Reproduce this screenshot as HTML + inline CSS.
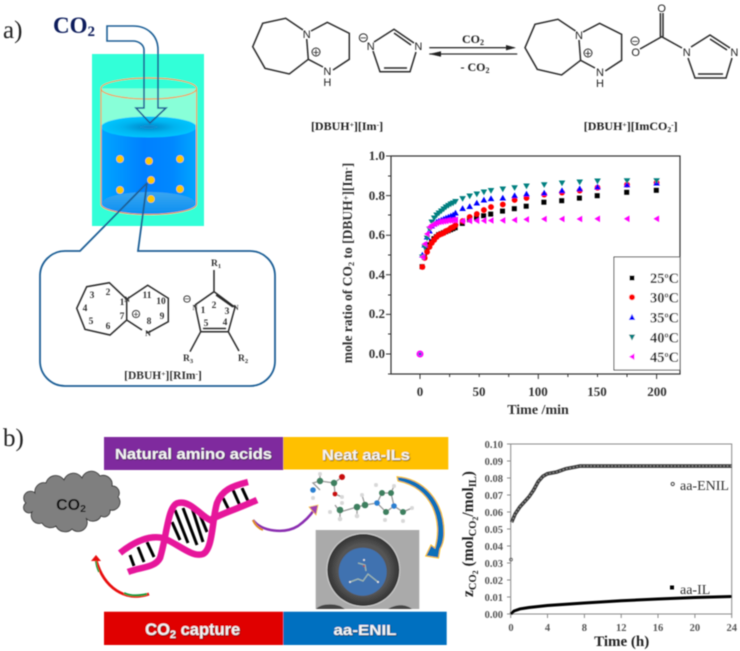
<!DOCTYPE html>
<html><head><meta charset="utf-8"><style>
html,body{margin:0;padding:0;background:#fff;width:740px;height:651px;overflow:hidden}
svg{display:block}
.s{font-family:"Liberation Serif",serif}
.b{font-family:"Liberation Serif",serif;font-weight:bold}
.a{font-family:"Liberation Sans",sans-serif;font-weight:bold}
.n{font-family:"Liberation Sans",sans-serif}
.ch{fill:none;stroke:#2a2a2a;stroke-width:1.5}
</style></head><body>
<svg width="740" height="651" viewBox="0 0 740 651" xmlns="http://www.w3.org/2000/svg">
<defs>
<filter id="bl" filterUnits="userSpaceOnUse" x="0" y="0" width="740" height="651"><feGaussianBlur stdDeviation="0.4"/></filter>
<filter id="sh" x="-10%" y="-30%" width="120%" height="160%"><feDropShadow dx="0.7" dy="0.8" stdDeviation="0.6" flood-color="#333" flood-opacity=".8"/></filter>
<linearGradient id="liq" x1="0" x2="1" y1="0" y2="0"><stop offset="0" stop-color="#00a6ff"/><stop offset=".45" stop-color="#0080ff"/><stop offset=".75" stop-color="#0088ff"/><stop offset="1" stop-color="#00a8ff"/></linearGradient>
<radialGradient id="top"><stop offset="0" stop-color="#0a84c8"/><stop offset=".55" stop-color="#00b4f0"/><stop offset="1" stop-color="#00c6ff"/></radialGradient>
<linearGradient id="bot" x1="0" x2="0" y1="0" y2="1"><stop offset="0" stop-color="#3aa6f0"/><stop offset="1" stop-color="#0c8ff2"/></linearGradient>
<radialGradient id="tem"><stop offset="0" stop-color="#5a5a5a"/><stop offset=".72" stop-color="#555"/><stop offset=".9" stop-color="#3e3e3e"/><stop offset="1" stop-color="#333"/></radialGradient>
<marker id="m1" markerUnits="userSpaceOnUse" markerWidth="6" markerHeight="6" refX="3" refY="3"><rect x=".2" y=".2" width="5" height="5" fill="#000"/></marker>
<marker id="m2" markerUnits="userSpaceOnUse" markerWidth="6" markerHeight="6" refX="3" refY="3"><circle cx="3" cy="3" r="2.9" fill="#f00"/></marker>
<marker id="m3" markerUnits="userSpaceOnUse" markerWidth="7" markerHeight="7" refX="3.5" refY="3.5"><path d="M3.5 .3L6.8 6H.2z" fill="#00f"/></marker>
<marker id="m4" markerUnits="userSpaceOnUse" markerWidth="7" markerHeight="7" refX="3.5" refY="3.5"><path d="M3.5 6.7L6.8 1H.2z" fill="#008080"/></marker>
<marker id="m5" markerUnits="userSpaceOnUse" markerWidth="7" markerHeight="7" refX="3.5" refY="3.5"><path d="M.4 3.5L6 .2V6.8z" fill="#f0f"/></marker>
</defs>
<rect width="740" height="651" fill="#fff"/>
<g filter="url(#bl)">
<!-- a) left -->
<text x="3" y="38" class="s" font-size="25" fill="#222">a)</text>
<text x="53" y="33" class="b" font-size="23" fill="#0a1f5c">CO<tspan font-size="15" dy="3">2</tspan></text>
<rect x="92" y="54" width="112" height="172" fill="#33ffd8"/>
<path d="M101 88.5V204a47.8 10.5 0 0 0 95.6 0V88.5z" fill="#88ffd8"/>
<path d="M101 127V204a47.8 10.5 0 0 0 95.6 0V127z" fill="url(#liq)"/>
<ellipse cx="148.8" cy="127" rx="47.8" ry="10.5" fill="url(#top)"/>
<ellipse cx="148.8" cy="203" rx="46" ry="11" fill="url(#bot)"/>
<path d="M101 88.5V204a47.8 10.5 0 0 0 95.6 0V88.5" fill="none" stroke="#f59a50" stroke-width="1.2"/>
<ellipse cx="148.8" cy="88.5" rx="47.8" ry="10.5" fill="none" stroke="#f59a50" stroke-width="1.2"/>
<g fill="#ffc800"><circle cx="120" cy="159" r="3.7"/><circle cx="149" cy="161" r="3.7"/><circle cx="180" cy="159" r="3.7"/><circle cx="151" cy="180" r="3.7"/><circle cx="120" cy="190" r="3.7"/><circle cx="180" cy="189" r="3.7"/><circle cx="151" cy="199" r="3.7"/></g>
<path d="M107 26H133C148 26 158 36 158 50V108H166L150 123L136 108H144V50C144 45 139 41 133 41H107z" fill="none" stroke="#1f5f96" stroke-width="1.6"/>
<path d="M147 183L80 251H65A25 25 0 0 0 40 276V361A25 25 0 0 0 65 386H250A25 25 0 0 0 275 361V276A25 25 0 0 0 250 251H138L147 183" fill="none" stroke="#1f5f96" stroke-width="1.8"/>
<g class="ch">
<path d="M126.7 299.3L109.3 282.7L86.7 286.7L76.7 308.3L85 329.3L110 335L126.7 320V299.3L147.7 285.3L168.3 298.3V321.7L150 331.7L146 333M126.7 320L142 330"/>
<path d="M195 305L214 291.7L235 307.3L228.3 331.7H200.7L195 305M214 291.7V270M200.7 331.7L190 351.7M228.3 331.7L239 351M216 295L233 307M203 328.5H226"/>
<circle cx="136" cy="314" r="3.6" stroke-width=".9"/><circle cx="187" cy="299" r="3.2" stroke-width=".9"/>
</g>
<g class="b" font-size="9.5" fill="#333" text-anchor="middle">
<text x="122" y="305">1</text><text x="108" y="295">2</text><text x="92" y="298">3</text><text x="85" y="311">4</text><text x="91" y="324">5</text><text x="108" y="329">6</text><text x="122" y="319">7</text><text x="149" y="324">8</text><text x="162" y="319">9</text><text x="161" y="304">10</text><text x="147" y="298">11</text>
<text x="203" y="313">1</text><text x="214" y="308">2</text><text x="227" y="314">3</text><text x="225" y="325">4</text><text x="206" y="326">5</text>
<text x="136" y="317.5">+</text><text x="187" y="302">−</text>
<text x="216" y="266">R<tspan font-size="6.5" dy="2">1</tspan></text><text x="188" y="361">R<tspan font-size="6.5" dy="2">3</tspan></text><text x="243" y="361">R<tspan font-size="6.5" dy="2">2</tspan></text>
<text x="148" y="336" font-size="8">N</text><text x="127" y="302" font-size="8">N</text><text x="195" y="310" font-size="7">N</text><text x="236" y="310" font-size="7">N</text>
</g>
<text x="163" y="379" class="b" font-size="11.5" text-anchor="middle" fill="#333">[DBUH<tspan font-size="7.5" dy="-3">+</tspan><tspan dy="3">][RIm</tspan><tspan font-size="7.5" dy="-3">-</tspan><tspan dy="3">]</tspan></text>
<!-- top chem -->
<g class="ch">
<path d="M303 30L285.7 18.3L262.7 23.3L252.7 46.7L265 68.3L289.3 74L308.3 59.3L306.7 39M311 31L327.3 22.3L349.3 33.3V59.3L333 70M308.3 59.3L323 67"/>
<path d="M374 42L394 29.3L414 43M394 33L411 45M416 52L410 71.7H380L373 51M384 68H407"/>
<path d="M575.5 31L558 19.3L535 24.3L525 47.7L537.3 69.3L561.6 75L580.6 60.3L579 40M583 32L599.6 23.3L621.6 34.3V60.3L605.3 71M580.6 60.3L595 68"/>
<path d="M640 49L661.7 36.7L682 48M660.4 36.7V13M663 36.7V13M691 47L710 35L730 48M710 39L727 50M732 58L726 78H695L688 58M698 74H723"/>
</g>
<g class="ch"><circle cx="316" cy="52" r="4" stroke-width="1"/><circle cx="363.3" cy="37.7" r="4" stroke-width="1"/><circle cx="588" cy="53" r="4" stroke-width="1"/><circle cx="635" cy="41" r="4" stroke-width="1"/></g>
<g class="n" font-size="11" fill="#222" text-anchor="middle">
<text x="306.7" y="38">N</text><text x="327.3" y="75">N</text><text x="327.3" y="86">H</text><text x="370.7" y="50">N</text><text x="418.3" y="50">N</text>
<text x="579" y="39">N</text><text x="600" y="76">N</text><text x="600" y="87">H</text><text x="661.7" y="12">O</text><text x="635.7" y="56">O</text><text x="686.7" y="56">N</text><text x="734.3" y="56">N</text>
<text x="316" y="56">+</text><text x="363.3" y="41.5">−</text><text x="588" y="57">+</text><text x="635" y="45">−</text>
</g>
<path d="M429.3 47.7H514M429.3 54H517.3" stroke="#333" stroke-width="1.3" fill="none"/>
<path d="M506 45L516 47.7L506 50.4zM441 51.3L429.3 54L441 56.7z" fill="#222"/>
<text x="473" y="43" class="b" font-size="12" text-anchor="middle" fill="#222">CO<tspan font-size="8" dy="2">2</tspan></text>
<text x="475" y="71" class="b" font-size="12" text-anchor="middle" fill="#222">- CO<tspan font-size="8" dy="2">2</tspan></text>
<text x="347" y="130" class="b" font-size="12" text-anchor="middle" fill="#222">[DBUH<tspan font-size="7.5" dy="-3">+</tspan><tspan dy="3">][Im</tspan><tspan font-size="7.5" dy="-3">-</tspan><tspan dy="3">]</tspan></text>
<text x="630.7" y="130" class="b" font-size="12" text-anchor="middle" fill="#222">[DBUH<tspan font-size="7.5" dy="-3">+</tspan><tspan dy="3">][ImCO</tspan><tspan font-size="7.5" dy="2">2</tspan><tspan font-size="7.5" dy="-5">-</tspan><tspan dy="3">]</tspan></text>
<!-- chart 1 -->
<rect x="391" y="156" width="289" height="218" fill="none" stroke="#333" stroke-width="1.2"/>
<path d="M386 156h5M386 195.6h5M386 235.2h5M386 274.8h5M386 314.4h5M386 354h5M388 176h3M388 215h3M388 255h3M388 295h3M388 334h3M388 374h3M420 374v5M479.2 374v3M538.3 374v5M597.5 374v3M656.6 374v5M449.6 374v3M508.7 374v3M567.9 374v3M627 374v3" stroke="#333" stroke-width="1" fill="none"/>
<g class="b" font-size="13" fill="#333" text-anchor="end">
<text x="385" y="160">1.0</text><text x="385" y="200">0.8</text><text x="385" y="239">0.6</text><text x="385" y="279">0.4</text><text x="385" y="318">0.2</text><text x="385" y="358">0.0</text></g>
<g class="b" font-size="13" fill="#333" text-anchor="middle">
<text x="420" y="396">0</text><text x="479" y="396">50</text><text x="538" y="396">100</text><text x="597" y="396">150</text><text x="657" y="396">200</text></g>
<text x="538" y="414" class="b" font-size="14" fill="#333" text-anchor="middle">Time /min</text>
<text transform="translate(352,263) rotate(-90)" class="b" font-size="13.5" fill="#333" text-anchor="middle">mole ratio of CO<tspan font-size="8.5" dy="2">2</tspan><tspan dy="-2"> to  [DBUH</tspan><tspan font-size="8.5" dy="-3">+</tspan><tspan dy="3">][Im</tspan><tspan font-size="8.5" dy="-3">-</tspan><tspan dy="3">]</tspan></text>
<g fill="none" stroke="none">
<polyline marker-start="url(#m1)" marker-mid="url(#m1)" marker-end="url(#m1)" points="422.4,267 424.7,257 427.1,249 429.5,245 431.8,242 434.2,239 436.6,237 438.9,235 441.3,234 443.7,233 446,232 448.4,231 450.8,230 453.1,229 455.5,228 462.6,223.7 469.7,220 476.8,218 483.9,216 491,214.4 502.8,211.4 514.6,209 526.5,206.5 544.2,202.5 562,201 579.7,198.4 597.5,196 627,192.6 656.6,190.6"/>
<polyline marker-start="url(#m2)" marker-mid="url(#m2)" marker-end="url(#m2)" points="422.4,267 424.7,258 427.1,252 429.5,247 431.8,243 434.2,240 436.6,237 438.9,235 441.3,234 443.7,233 446,231 448.4,230 450.8,228 453.1,227 455.5,225 462.6,221 469.7,217 476.8,214 483.9,210 491,207 502.8,204.5 514.6,200 526.5,198 544.2,194.6 562,192.6 579.7,190.6 597.5,187.7 627,184.7 656.6,182.7"/>
<polyline marker-start="url(#m3)" marker-mid="url(#m3)" marker-end="url(#m3)" points="422.4,255 424.7,245 427.1,237 429.5,231 431.8,226 434.2,224 436.6,222 438.9,221 441.3,220 443.7,219 446,218 448.4,217 450.8,216 453.1,215 455.5,213 462.6,208.5 469.7,206.5 476.8,203 483.9,200 491,198.6 502.8,198 514.6,195.6 526.5,194 544.2,193 562,190.6 579.7,188.7 597.5,187 627,184.7 656.6,183"/>
<polyline marker-start="url(#m4)" marker-mid="url(#m4)" marker-end="url(#m4)" points="422.4,257 424.7,247 427.1,238 429.5,229 431.8,222 434.2,218 436.6,215 438.9,213 441.3,211 443.7,209 446,207 448.4,205.5 450.8,204 453.1,203 455.5,201.5 462.6,198.6 469.7,196 476.8,194 483.9,192 491,190.5 502.8,189 514.6,187.7 526.5,186 544.2,184.7 562,183 579.7,182 597.5,181 627,180.7 656.6,180.7"/>
<polyline marker-start="url(#m5)" marker-mid="url(#m5)" marker-end="url(#m5)" points="422.4,257 424.7,244 427.1,234 429.5,227 431.8,225 434.2,224 436.6,223 438.9,222 441.3,221.7 443.7,221.3 446,221 448.4,220.4 450.8,220.4 453.1,220 455.5,219.8 462.6,221 469.7,221 476.8,220.7 483.9,220.7 491,220.5 502.8,220.4 514.6,220 526.5,219.4 544.2,219 562,219 579.7,219 597.5,218.8 627,218.8 656.6,218.8"/>
</g>
<circle cx="420" cy="354" r="3.5" fill="#f0f"/><rect x="418.5" y="352.5" width="3" height="3" fill="#5050d0"/>
<rect x="614" y="257" width="66" height="113" fill="#fff" stroke="#555" stroke-width="1"/>
<rect x="629.5" y="275.5" width="5" height="5" fill="#000"/><circle cx="632" cy="297.3" r="3" fill="#f00"/><path d="M632 314l3.2 6h-6.4z" fill="#00f"/><path d="M632 340.5l3.2-6h-6.4z" fill="#008080"/><path d="M629 356.7l5.5-3.3v6.6z" fill="#f0f"/>
<g class="b" font-size="14.5" fill="#222">
<text x="650" y="283">25<tspan font-size="8" dy="-5">o</tspan><tspan dy="5">C</tspan></text>
<text x="650" y="302.5">30<tspan font-size="8" dy="-5">o</tspan><tspan dy="5">C</tspan></text>
<text x="650" y="322.5">35<tspan font-size="8" dy="-5">o</tspan><tspan dy="5">C</tspan></text>
<text x="650" y="342.5">40<tspan font-size="8" dy="-5">o</tspan><tspan dy="5">C</tspan></text>
<text x="650" y="362">45<tspan font-size="8" dy="-5">o</tspan><tspan dy="5">C</tspan></text>
</g>
<!-- b) -->
<text x="3" y="446" class="s" font-size="25" fill="#222">b)</text>
<rect x="104" y="437" width="179.3" height="33" fill="#7f2a9e"/>
<rect x="283.3" y="437" width="165" height="32.5" fill="#ffc000"/>
<rect x="104" y="611.7" width="179.3" height="33.3" fill="#e00000"/>
<rect x="283.3" y="611.7" width="163.4" height="33.3" fill="#0070c0"/>
<g class="a" font-size="15" fill="#f4f4f4" text-anchor="middle" filter="url(#sh)">
<text x="193.5" y="459" textLength="157" lengthAdjust="spacingAndGlyphs">Natural amino acids</text>
<text x="366" y="460" textLength="88" lengthAdjust="spacingAndGlyphs">Neat aa-ILs</text>
<text x="192.7" y="635" font-size="16.5">CO<tspan font-size="11" dy="3">2</tspan><tspan dy="-3"> capture</tspan></text>
<text x="365" y="635" textLength="63" lengthAdjust="spacingAndGlyphs">aa-ENIL</text>
</g>
<path d="M35 493A9 9 0 0 1 46 483A10 10 0 0 1 64 480A10 10 0 0 1 82 478A10 10 0 0 1 100 476A9 9 0 0 1 112 486A7 7 0 0 1 118 497A8 8 0 0 1 110 510A6 6 0 0 1 101 516A9 9 0 0 1 86 518A9 9 0 0 1 72 529A10 10 0 0 1 56 526A10 10 0 0 1 42 523A8 8 0 0 1 32 512A5 5 0 0 1 26 503A6 6 0 0 1 35 493z" fill="#7f7f7f" stroke="#333" stroke-width=".9"/>
<text x="71" y="510" class="a" font-size="16" fill="#111" text-anchor="middle">CO<tspan font-size="10.5" dy="2">2</tspan></text>
<g stroke="#000" stroke-width="3" fill="none">
<path d="M130 555L134 566M138 547L144 562M147 542L154 557M172 522L180 540M175 510L188 543M183 508L197 545M192 508L203 542M200 515L207 532M223 498L230 512M233 490L241 508M242 488L248 501"/>
</g>
<g fill="none" stroke="#e6149b" stroke-width="6.5">
<path d="M120 553C135 541 150 535 163 538C177 543 192 558 203 554C213 549 212 520 217 503C222 490 232 486 248 482"/>
<path d="M128 572C140 567 155 568 160 558C167 535 168 505 178 503C190 500 200 515 210 520C225 512 240 508 257 500"/>
</g>
<!-- small curved arrows -->
<path d="M149 594C125 602 104 588 96 560" fill="none" stroke="#e81010" stroke-width="2.8"/>
<path d="M147 594C138 596 130 596 124 593" fill="none" stroke="#179a3c" stroke-width="2"/>
<path d="M91 561L96 555L101 561z" fill="#e81010"/><path d="M99 572C97 568 96 565 96 561" fill="none" stroke="#179a3c" stroke-width="1.5"/>
<path d="M253 520C262 532 285 534 298 526C305 521 310 516 314 510" fill="none" stroke="#8a2fb0" stroke-width="2.5"/>
<path d="M253 520C255 525 258 528 263 530" fill="none" stroke="#e08a20" stroke-width="2"/>
<path d="M309 507L318 505L316 515z" fill="#a040b0" stroke="#ffc000" stroke-width=".6"/>
<path d="M397 476.7C422 478 445 500 444 535C443.5 542 442 546 440 549L438.5 558L425.7 556L431 545L435 548C443 520 432 488 398 481z" fill="#0b6fb8" stroke="#ffc000" stroke-width="1"/>
<!-- molecule -->
<g stroke="#999" stroke-width="1.3" fill="none"><path d="M320 490L313 483L320 481L334 483L342 477M334 483L335 494L342 497M340 512L357 507L365 505L377 503L382 493L391 493L394 506L386 512L377 503M394 506L403 512L412 508M320 481L320 474M340 512L335 505M340 512L340 519M357 507L357 516M365 505L362 495M391 493L394 486"/></g>
<g fill="#3d7f5e"><circle cx="320" cy="481" r="3.2"/><circle cx="334" cy="483" r="3.2"/><circle cx="340" cy="510" r="3.3"/><circle cx="357" cy="507" r="3.3"/><circle cx="365" cy="505" r="3.3"/><circle cx="382" cy="493" r="3"/><circle cx="391" cy="493" r="3"/><circle cx="386" cy="512" r="3"/><circle cx="403" cy="512" r="3"/></g>
<g fill="#c81010"><circle cx="342" cy="477" r="3"/><circle cx="335" cy="494" r="2.4"/></g>
<g fill="#2a7fd0"><circle cx="313" cy="490" r="2.8"/><circle cx="377" cy="503" r="2.8"/><circle cx="394" cy="506" r="2.8"/></g>
<g fill="#d8d8d8"><circle cx="320" cy="474" r="2"/><circle cx="313" cy="498" r="2"/><circle cx="342" cy="497" r="2"/><circle cx="330" cy="512" r="2"/><circle cx="340" cy="519" r="2.3"/><circle cx="342" cy="503" r="2"/><circle cx="357" cy="516" r="2.3"/><circle cx="362" cy="495" r="2"/><circle cx="376" cy="485" r="2"/><circle cx="394" cy="486" r="2"/><circle cx="385" cy="520" r="2"/><circle cx="412" cy="508" r="2"/><circle cx="403" cy="521" r="2"/></g>
<!-- TEM -->
<rect x="315.7" y="530" width="103.6" height="79" fill="#aaa"/>
<circle cx="363.3" cy="570" r="37" fill="#d0d0d0"/>
<circle cx="363.3" cy="570" r="36" fill="url(#tem)"/>
<path d="M316 609C320 604 332 603 340 606L345 609zM388 609C396 604 406 604 412 609z" fill="#444"/>
<circle cx="362.7" cy="571.7" r="24" fill="#3f72b0"/>
<path d="M350 582L358 579L363 581L368 574L378 582M358 563L365 565L366 571" stroke="#9fb7b0" stroke-width="1.3" fill="none"/>
<circle cx="364" cy="560" r="1" fill="#e8e8e8"/><circle cx="364" cy="566" r="1" fill="#c04040"/><circle cx="350" cy="582" r="1" fill="#e8e8e8"/><circle cx="378" cy="582" r="1" fill="#e8e8e8"/>
<!-- chart 2 -->
<rect x="510.7" y="444" width="221" height="170" fill="none" stroke="#8a8a8a" stroke-width="1"/>
<g stroke="#8a8a8a" fill="none"><path d="M507 444h4M507 461h4M507 478h4M507 495h4M507 512h4M507 529h4M507 546h4M507 563h4M507 580h4M507 597h4M507 614h4M510.7 614v4M547.5 614v4M584.4 614v4M621.2 614v4M658 614v4M694.9 614v4M731.7 614v4"/></g>
<g class="s" font-size="10.5" font-weight="bold" fill="#555" text-anchor="end"><text x="503" y="448">0.10</text><text x="503" y="465">0.09</text><text x="503" y="482">0.08</text><text x="503" y="499">0.07</text><text x="503" y="516">0.06</text><text x="503" y="533">0.05</text><text x="503" y="550">0.04</text><text x="503" y="567">0.03</text><text x="503" y="584">0.02</text><text x="503" y="601">0.01</text><text x="503" y="618">0.00</text></g>
<g class="s" font-size="10.5" font-weight="bold" fill="#555" text-anchor="middle"><text x="511" y="631">0</text><text x="547.5" y="631">4</text><text x="584.4" y="631">8</text><text x="621.2" y="631">12</text><text x="658" y="631">16</text><text x="694.9" y="631">20</text><text x="731.7" y="631">24</text></g>
<text x="621.7" y="646" class="b" font-size="15" fill="#222" text-anchor="middle">Time  (h)</text>
<text transform="translate(473,534) rotate(-90)" class="b" font-size="15.5" fill="#222" text-anchor="middle">z<tspan font-size="10.5" dy="3">CO</tspan><tspan font-size="8" dy="2">2</tspan><tspan dy="-5"> (mol</tspan><tspan font-size="10.5" dy="3">CO</tspan><tspan font-size="8" dy="2">2</tspan><tspan dy="-5">/mol</tspan><tspan font-size="10.5" dy="3">IL</tspan><tspan dy="-3">)</tspan></text>
<polyline points="511.6,522.2 515.3,513.7 519.9,506.9 524.5,501.8 529.1,496.7 533.7,489.9 538.3,481.4 542.9,476.3 547.5,473.7 556.8,472 566,468.7 575.2,467 579.8,466.1 731.7,466.1" fill="none" stroke="#3a3a3a" stroke-width="3.6"/>
<polyline points="511.6,522.2 515.3,513.7 519.9,506.9 524.5,501.8 529.1,496.7 533.7,489.9 538.3,481.4 542.9,476.3 547.5,473.7 556.8,472 566,468.7 575.2,467 579.8,466.1 731.7,466.1" fill="none" stroke="#999" stroke-width="1.1" stroke-dasharray="1.5 2"/>
<circle cx="511" cy="559.6" r="1.4" fill="none" stroke="#555" stroke-width=".8"/>
<polyline points="510.7,614 514,611 519.9,608.9 529,607.5 547.5,605.5 584.4,603 621,600.7 658,599 695,597.5 731.7,596.5" fill="none" stroke="#000" stroke-width="3"/>
<circle cx="672.7" cy="484" r="1.6" fill="none" stroke="#444"/>
<rect x="670" y="585.5" width="4" height="4" fill="#000"/>
<text x="680" y="490" class="s" font-size="14" fill="#333">aa-ENIL</text>
<text x="680" y="594" class="s" font-size="14" fill="#333">aa-IL</text>
</g>
</svg>
</body></html>
